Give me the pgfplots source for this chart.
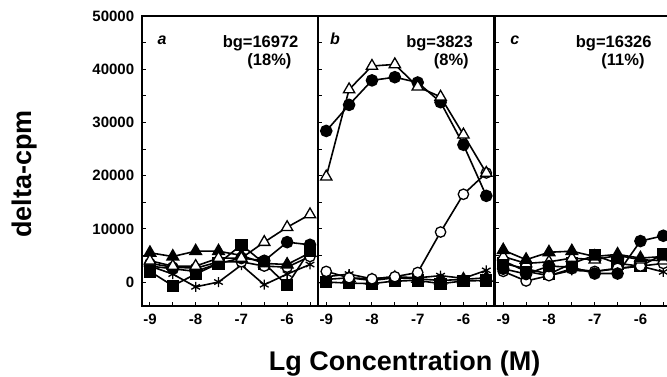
\documentclass[border=0pt]{standalone}
\usepackage{pgfplots}
\pgfplotsset{compat=1.18}
\usepackage{fontspec}
\setmainfont{Liberation Sans}

\pgfplotsset{
 panel/.style={
  scale only axis, width=176.3pt, height=290pt, anchor=south west,
  xmin=-9.18, xmax=-5.325, ymin=-4500, ymax=50000,
  scaled y ticks=false, scaled x ticks=false,
  xtick={-9,-8,-7,-6}, xticklabels={-9,-8,-7,-6},
  minor xtick={-8.5,-7.5,-6.5,-5.5},
  ytick={0,10000,20000,30000,40000,50000},
  minor ytick={5000,15000,25000,35000,45000},
  yticklabels={0,10000,20000,30000,40000,50000},
  xtick pos=bottom, ytick pos=left, tick align=inside,
  major tick length=4pt, minor tick length=4pt,
  every tick/.style={black, line width=1pt},
  every minor tick/.style={black, line width=1pt},
  axis line style={line width=1.8pt},
  tick label style={font=\fontsize{15}{15}\selectfont\bfseries},
  xticklabel style={yshift=-4.5pt},
  yticklabel style={xshift=-4pt},
  clip=false,
 },
 s/.style={black, line width=1.6pt},
 ftri/.style={s, mark=triangle*, mark size=6.5pt, mark options={solid, fill=black}},
 otri/.style={s, mark=triangle*, mark size=6.5pt, mark options={solid, fill=white, line width=1.3pt}},
 fcir/.style={s, mark=*, mark size=5.5pt, mark options={solid, fill=black}},
 ocir/.style={s, mark=*, mark size=5.2pt, mark options={solid, fill=white, line width=1.3pt}},
 fsq/.style={s, mark=square*, mark size=5.3pt, mark options={solid, fill=black}},
 ast/.style={s, mark=asterisk, mark size=5pt, mark options={solid, line width=1.3pt}},
}
\newcommand{\bgfont}{\fontsize{16.5}{16.5}\selectfont\bfseries}
\newcommand{\letfont}{\fontsize{16}{16}\selectfont\bfseries\itshape}

\begin{document}
\begin{tikzpicture}[x=1pt,y=1pt]
\useasboundingbox (0,0) rectangle (667,377);
\clip (0,0) rectangle (667,377);

% ---------- panel a ----------
\begin{axis}[panel, at={(141.7pt,71pt)},
  ylabel={\fontsize{27}{27}\selectfont\bfseries delta-cpm},
  every axis y label/.style={at={(axis description cs:-0.665,0.455)}, rotate=90, anchor=center}]
\addplot[fsq] coordinates {(-9,2000) (-8.5,-700) (-8,1500) (-7.5,3500) (-7,7000) (-6.5,3500) (-6,-600) (-5.5,6000)};
\addplot[ast] coordinates {(-9,3000) (-8.5,1500) (-8,-900) (-7.5,0) (-7,3200) (-6.5,-500) (-6,1500) (-5.5,3300)};
\addplot[ocir] coordinates {(-9,3500) (-8.5,2800) (-8,2600) (-7.5,3800) (-7,3800) (-6.5,3000) (-6,2800) (-5.5,4800)};
\addplot[ftri] coordinates {(-9,5500) (-8.5,4800) (-8,5800) (-7.5,5800) (-7,5000) (-6.5,3500) (-6,3300) (-5.5,5500)};
\addplot[fcir] coordinates {(-9,3000) (-8.5,2500) (-8,2000) (-7.5,3500) (-7,4500) (-6.5,4000) (-6,7500) (-5.5,7000)};
\addplot[otri] coordinates {(-9,4000) (-8.5,3000) (-8,3000) (-7.5,4500) (-7,4500) (-6.5,7500) (-6,10300) (-5.5,12700)};
\node[font=\letfont, anchor=base] at (axis description cs:0.115,0.9) {a};
\node[font=\bgfont, anchor=base east] at (axis description cs:0.909,0.893) {bg=16972};
\node[font=\bgfont, anchor=base east] at (axis description cs:0.8695,0.831) {(18\%)};
\end{axis}

% ---------- panel b ----------
\begin{axis}[panel, at={(318pt,71pt)}, yticklabels={},
  xlabel={\fontsize{27}{27}\selectfont\bfseries Lg Concentration (M)},
  every axis x label/.style={at={(axis description cs:0.4915,-0.2207)}, anchor=base}]
\addplot[fsq] coordinates {(-9,0) (-8.5,-200) (-8,-300) (-7.5,200) (-7,300) (-6.5,-300) (-6,200) (-5.5,300)};
\addplot[ast] coordinates {(-9,1000) (-8.5,1500) (-8,600) (-7.5,1000) (-7,800) (-6.5,1200) (-6,700) (-5.5,2200)};
\addplot[ftri] coordinates {(-9,500) (-8.5,800) (-8,300) (-7.5,800) (-7,600) (-6.5,300) (-6,500) (-5.5,800)};
\addplot[ocir] coordinates {(-9,2000) (-8.5,800) (-8,600) (-7.5,1000) (-7,1800) (-6.5,9400) (-6,16500) (-5.5,20500)};
\addplot[fcir] coordinates {(-9,28400) (-8.5,33300) (-8,37900) (-7.5,38500) (-7,37500) (-6.5,33800) (-6,25800) (-5.5,16200)};
\addplot[otri] coordinates {(-9,19800) (-8.5,36200) (-8,40600) (-7.5,40900) (-7,36700) (-6.5,34800) (-6,27700) (-5.5,20500)};
\node[font=\letfont, anchor=base] at (axis description cs:0.096,0.9) {b};
\node[font=\bgfont, anchor=base east] at (axis description cs:0.898,0.893) {bg=3823};
\node[font=\bgfont, anchor=base east] at (axis description cs:0.875,0.831) {(8\%)};
\end{axis}

% ---------- panel c ----------
\begin{axis}[panel, at={(495pt,71pt)}, yticklabels={}]
\addplot[fsq] coordinates {(-9,3500) (-8.5,2500) (-8,1500) (-7.5,3500) (-7,5000) (-6.5,3500) (-6,3000) (-5.5,5200)};
\addplot[ast] coordinates {(-9,4000) (-8.5,2000) (-8,1200) (-7.5,2200) (-7,2000) (-6.5,2500) (-6,3000) (-5.5,1900)};
\addplot[ocir] coordinates {(-9,2000) (-8.5,200) (-8,1200) (-7.5,2500) (-7,2000) (-6.5,2600) (-6,3000) (-5.5,3500)};
\addplot[otri] coordinates {(-9,4800) (-8.5,3500) (-8,3800) (-7.5,4500) (-7,4200) (-6.5,5000) (-6,4200) (-5.5,4000)};
\addplot[ftri] coordinates {(-9,6000) (-8.5,4200) (-8,5600) (-7.5,5800) (-7,4800) (-6.5,5200) (-6,4500) (-5.5,4800)};
\addplot[fcir] coordinates {(-9,2500) (-8.5,1500) (-8,3000) (-7.5,2800) (-7,1600) (-6.5,1600) (-6,7700) (-5.5,8700)};
\node[font=\letfont, anchor=base] at (axis description cs:0.113,0.9) {c};
\node[font=\bgfont, anchor=base east] at (axis description cs:0.908,0.893) {bg=16326};
\node[font=\bgfont, anchor=base east] at (axis description cs:0.868,0.831) {(11\%)};
\end{axis}
\end{tikzpicture}
\end{document}
